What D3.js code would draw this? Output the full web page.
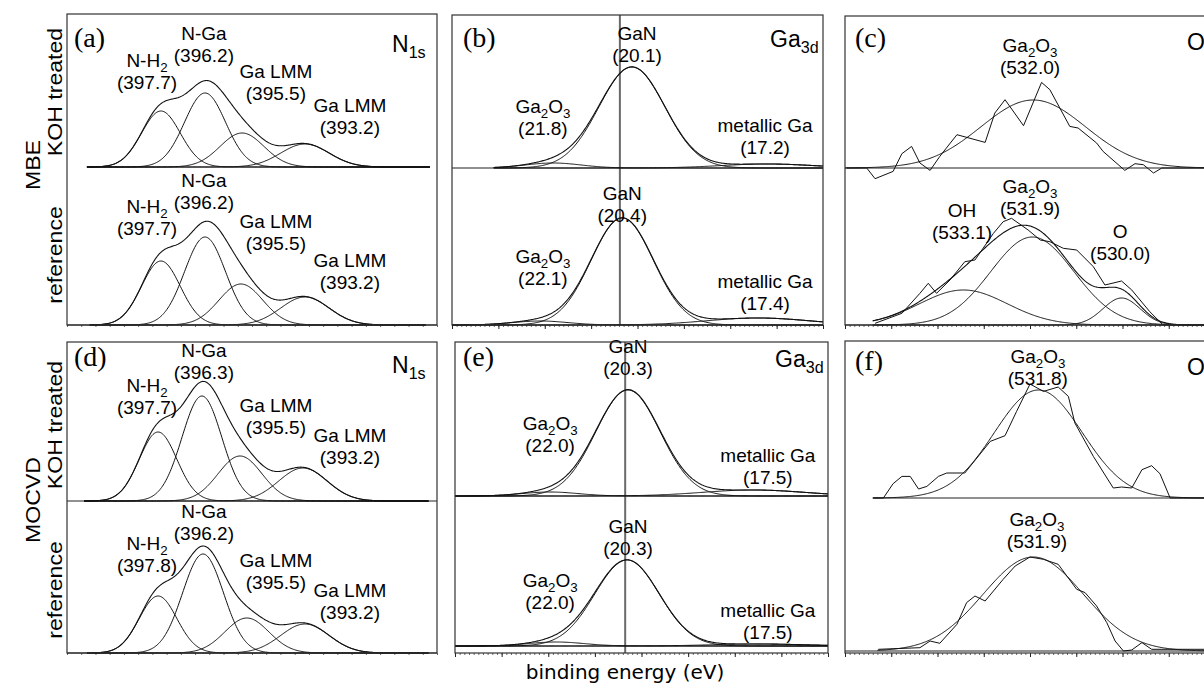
<!DOCTYPE html>
<html>
<head>
<meta charset="utf-8">
<script src="https://cdn.jsdelivr.net/npm/d3@7"></script>
<style>
  body { margin: 0; background: #fff; }
</style>
</head>
<body>
<script>
// fitted components: [center (eV), height (a.u.), sigma (eV)]
var n1sMbeKoh = [[398.70, 56, 0.68], [397.15, 74, 0.72], [395.85, 34, 0.77], [393.64, 23, 0.85]];
var n1sMbeRef = [[398.70, 64, 0.68], [397.15, 88, 0.72], [395.89, 41, 0.77], [393.64, 28, 0.85]];
var n1sMocvdKoh = [[398.80, 69, 0.66], [397.26, 105, 0.70], [395.92, 45, 0.77], [393.71, 33, 0.85]];
var n1sMocvdRef = [[398.80, 57, 0.66], [397.22, 99, 0.72], [395.68, 35, 0.77], [393.64, 29, 0.85]];

var ga3dMbeKoh = [[21.82, 5, 0.6], [20.12, 101, 0.71], [17.2, 4, 1.0]];
var ga3dMbeRef = [[22.10, 4, 0.6], [20.33, 107, 0.67], [17.4, 7, 1.1]];
var ga3dMocvdKoh = [[21.96, 4, 0.6], [20.29, 106, 0.69], [17.6, 6, 1.1]];
var ga3dMocvdRef = [[21.83, 4, 0.6], [20.31, 86, 0.69], [17.5, 2, 1.0]];

var o1sMbeKoh = [[531.93, 68, 1.13]];
var o1sMbeRef = [[533.44, 35, 0.95], [531.95, 88, 0.9], [530.02, 27, 0.4]];
var o1sMocvdKoh = [[531.82, 108, 0.95]];
var o1sMocvdRef = [[531.93, 94, 1.08]];

// measured O1s traces: [energy (eV), intensity (a.u.)]
var o1sMbeKohRaw = [[535.96, 0], [535.53, 0], [535.35, -10.7], [534.96, -3.4], [534.77, 14.3], [534.56, 21.6],
  [534.38, 5], [534.16, -2.4], [533.95, 11.6], [533.58, 33.3], [532.97, 25.6], [532.76, 55], [532.54, 68.3],
  [532.14, 42.3], [531.75, 85.6], [531.57, 78.3], [531.14, 41.6], [530.96, 40], [530.56, 25], [530.42, 16.6],
  [529.95, -2.4], [529.73, 4.3], [529.55, 3.3], [529.33, -5], [529.15, 0], [528.0, 0]];
var o1sMbeRefRaw = [[535.35, 1.7], [534.77, 11.7], [534.38, 31.7], [534.20, 41.7], [534.02, 31.7], [533.73, 45],
  [533.41, 63.3], [533.19, 65], [532.79, 91.7], [532.58, 103.3], [532.40, 106.7], [532.04, 95], [531.78, 85],
  [531.57, 83.3], [531.28, 76.7], [530.99, 75], [530.63, 58.3], [530.38, 40], [530.02, 44], [529.80, 35],
  [529.62, 25], [529.41, 13.3], [529.23, 5], [529.12, 0], [528.0, 0]];
var o1sMocvdKohRaw = [[535.39, 0], [535.17, 0], [534.96, 14.3], [534.77, 21.6], [534.59, 21.6], [534.41, 9],
  [534.23, 11.6], [533.98, 21.6], [533.80, 25], [533.41, 25], [532.86, 56.6], [532.54, 62.3], [532.29, 86.6],
  [532.0, 114], [531.71, 106.6], [531.39, 111], [531.17, 101.6], [531.03, 75], [530.63, 41.6], [530.20, 10],
  [530.02, 11], [529.80, 10], [529.58, 28.3], [529.37, 32.3], [529.19, 24.3], [528.97, 0], [528.0, 0]];
var o1sMocvdRefRaw = [[535.28, 1.7], [534.38, 3.3], [534.16, 10], [533.95, 7.7], [533.58, 26.7], [533.37, 48.4],
  [533.19, 55], [532.97, 50], [532.58, 71.7], [532.32, 85], [532.0, 94], [531.71, 91.7], [531.39, 86.7],
  [530.99, 61.7], [530.81, 58.4], [530.56, 45], [530.34, 28.4], [530.16, 10], [529.98, 0], [529.80, 1],
  [529.58, 8.4], [529.37, 1.7], [528.0, 1.7]];

// peak annotations (name, binding energy); {x} marks a subscript
var n1sMbeKohNames = [['N-H{2}', '(397.7)'], ['N-Ga', '(396.2)'], ['Ga LMM', '(395.5)'], ['Ga LMM', '(393.2)']];
var n1sMbeRefNames = [['N-H{2}', '(397.7)'], ['N-Ga', '(396.2)'], ['Ga LMM', '(395.5)'], ['Ga LMM', '(393.2)']];
var n1sMocvdKohNames = [['N-H{2}', '(397.7)'], ['N-Ga', '(396.3)'], ['Ga LMM', '(395.5)'], ['Ga LMM', '(393.2)']];
var n1sMocvdRefNames = [['N-H{2}', '(397.8)'], ['N-Ga', '(396.2)'], ['Ga LMM', '(395.5)'], ['Ga LMM', '(393.2)']];
var ga3dMbeKohNames = [['Ga{2}O{3}', '(21.8)'], ['GaN', '(20.1)'], ['metallic Ga', '(17.2)']];
var ga3dMbeRefNames = [['Ga{2}O{3}', '(22.1)'], ['GaN', '(20.4)'], ['metallic Ga', '(17.4)']];
var ga3dMocvdKohNames = [['Ga{2}O{3}', '(22.0)'], ['GaN', '(20.3)'], ['metallic Ga', '(17.5)']];
var ga3dMocvdRefNames = [['Ga{2}O{3}', '(22.0)'], ['GaN', '(20.3)'], ['metallic Ga', '(17.5)']];
var o1sMbeKohNames = [['Ga{2}O{3}', '(532.0)']];
var o1sMbeRefNames = [['OH', '(533.1)'], ['Ga{2}O{3}', '(531.9)'], ['O', '(530.0)']];
var o1sMocvdKohNames = [['Ga{2}O{3}', '(531.8)']];
var o1sMocvdRefNames = [['Ga{2}O{3}', '(531.9)']];

// where each annotation sits, in [energy, intensity]
var n1sMbeKohLabelAt = [[399.19, 100], [397.19, 127], [394.66, 89], [392.06, 55]];
var n1sMbeRefLabelAt = [[399.19, 112], [397.19, 138], [394.66, 97], [392.06, 58]];
var n1sMocvdKohLabelAt = [[399.19, 109], [397.19, 144], [394.66, 89], [392.06, 59]];
var n1sMocvdRefLabelAt = [[399.19, 103], [397.19, 135], [394.66, 86], [392.06, 56]];
var ga3dMbeKohLabelAt = [[22.04, 55], [20.01, 128], [17.25, 36]];
var ga3dMbeRefLabelAt = [[22.04, 62], [20.33, 125], [17.25, 37]];
var ga3dMocvdKohLabelAt = [[21.96, 66], [20.29, 143], [17.29, 34]];
var ga3dMocvdRefLabelAt = [[21.96, 59], [20.29, 113], [17.29, 29]];
var o1sMbeKohLabelAt = [[532.0, 116]];
var o1sMbeRefLabelAt = [[533.47, 108], [532.0, 132], [530.05, 87]];
var o1sMocvdKohLabelAt = [[531.83, 135]];
var o1sMocvdRefLabelAt = [[531.85, 125]];

var rowNames = ['MBE', 'MOCVD'];
var sampleNames = ['KOH treated', 'reference'];

var W = 1204, H = 686;
var sans = 'Liberation Sans, Arial, sans-serif';
var ink = '#111';

var svg = d3.select('body').append('svg')
  .attr('width', W)
  .attr('height', H);

var gauss = (c, e) => c[1] * Math.exp(-Math.pow(e - c[0], 2) / (2 * c[2] * c[2]));

// text with {sub} markup turned into lowered tspans
var richText = (g, str, x, y, size, anchor) => {
  var t = g.append('text')
    .attr('x', x)
    .attr('y', y)
    .attr('font-family', sans)
    .attr('font-size', size)
    .attr('text-anchor', anchor || 'middle')
    .attr('fill', '#000');
  var shift = Math.round(size * 0.26);
  var low = false;
  str.split(/(\{[^}]*\})/).filter(s => s.length).forEach((s) => {
    if (s[0] == '{') {
      t.append('tspan').attr('font-size', size * 0.7).attr('dy', shift).text(s.slice(1, -1));
      low = true;
    } else {
      var ts = t.append('tspan').text(s);
      if (low) ts.attr('dy', -shift);
      low = false;
    }
  });
  return t;
};

var rangeOf = (a, b, step) => {
  var lo = Math.min(a, b), hi = Math.max(a, b);
  var out = d3.range(lo, hi, step);
  out.push(hi);
  return out;
};

var drawPanel = (p) => {
  var g = svg.append('g');
  var x = d3.scaleLinear().domain(p.domain).range([p.left, p.right]);

  // bottom ticks, no labels
  var lo = Math.min(p.domain[0], p.domain[1]), hi = Math.max(p.domain[0], p.domain[1]);
  var minors = d3.range(Math.ceil(lo / p.minor) * p.minor, hi + 1e-9, p.minor);
  var majors = minors.filter(v => Math.abs(v / p.major - Math.round(v / p.major)) < 1e-6 && (Math.round(v) % 2 == p.parity || p.major != 2));
  g.append('g')
    .attr('transform', 'translate(0,' + p.bottom + ')')
    .call(d3.axisBottom(x).tickValues(minors).tickSize(2).tickFormat(''))
    .call(a => a.select('.domain').remove())
    .call(a => a.selectAll('line').attr('stroke', '#444').attr('stroke-width', 0.8));
  g.append('g')
    .attr('transform', 'translate(0,' + p.bottom + ')')
    .call(d3.axisBottom(x).tickValues(majors).tickSize(4).tickFormat(''))
    .call(a => a.select('.domain').remove())
    .call(a => a.selectAll('line').attr('stroke', '#222'));

  if (p.refLine != null) {
    g.append('line')
      .attr('x1', x(p.refLine)).attr('x2', x(p.refLine))
      .attr('y1', p.top).attr('y2', p.bottom)
      .attr('stroke', '#6a6a6a')
      .attr('stroke-width', 2);
  }

  p.subplots.forEach((sp) => {
    var y = d3.scaleLinear().domain([0, 150]).range([sp.base, sp.base - 150]);
    var line = d3.line().x(d => x(d[0])).y(d => y(d[1]));

    // baseline of the spectrum
    var bl = sp.line || p.domain;
    g.append('line')
      .attr('x1', x(bl[0])).attr('x2', x(bl[1]))
      .attr('y1', y(0)).attr('y2', y(0))
      .attr('stroke', '#222')
      .attr('stroke-width', 1.2);

    var es = rangeOf(sp.fit[0], sp.fit[1], Math.abs(sp.fit[1] - sp.fit[0]) / 400);

    sp.comps.forEach((c) => {
      g.append('path')
        .attr('d', line(es.map(e => [e, gauss(c, e)])))
        .attr('fill', 'none')
        .attr('stroke', ink)
        .attr('stroke-width', 1);
    });

    if (sp.comps.length > 1) {
      g.append('path')
        .attr('d', line(es.map(e => [e, d3.sum(sp.comps, c => gauss(c, e))])))
        .attr('fill', 'none')
        .attr('stroke', ink)
        .attr('stroke-width', 1.1);
    }

    if (sp.raw) {
      g.append('path')
        .attr('d', line(sp.raw))
        .attr('fill', 'none')
        .attr('stroke', ink)
        .attr('stroke-width', 1);
    }

    sp.names.forEach((n, i) => {
      var at = sp.labelAt[i];
      richText(g, n[0], x(at[0]), y(at[1]), 19);
      richText(g, n[1], x(at[0]), y(at[1]) + 22, 19);
    });
  });

  // frame
  g.append('rect')
    .attr('x', p.left)
    .attr('y', p.top)
    .attr('width', p.right - p.left)
    .attr('height', p.bottom - p.top)
    .attr('fill', 'none')
    .attr('stroke', '#333')
    .attr('stroke-width', 1.2);

  g.append('text')
    .attr('x', p.letterAt[0])
    .attr('y', p.letterAt[1])
    .attr('font-family', 'Liberation Serif, Times New Roman, serif')
    .attr('font-size', 28)
    .text(p.letter);

  richText(g, p.core, p.coreAt[0], p.coreAt[1], 23, 'start');
};

var panels = [
  { letter: '(a)', letterAt: [74, 47], core: 'N{1s}', coreAt: [392, 52],
    domain: [402, 389], major: 2, minor: 0.5, parity: 1,
    left: 67, right: 437, top: 14, bottom: 325,
    subplots: [
      { base: 167, comps: n1sMbeKoh, fit: [401.3, 389.25], line: [401.3, 389.25], names: n1sMbeKohNames, labelAt: n1sMbeKohLabelAt },
      { base: 325, comps: n1sMbeRef, fit: [401.2, 389.4], names: n1sMbeRefNames, labelAt: n1sMbeRefLabelAt }
    ] },
  { letter: '(b)', letterAt: [463, 47], core: 'Ga{3d}', coreAt: [770, 47], refLine: 20.38,
    domain: [24, 16], major: 1, minor: 0.1,
    left: 452, right: 823, top: 15, bottom: 325,
    subplots: [
      { base: 168, comps: ga3dMbeKoh, fit: [23.1, 16], names: ga3dMbeKohNames, labelAt: ga3dMbeKohLabelAt },
      { base: 325, comps: ga3dMbeRef, fit: [24, 16], names: ga3dMbeRefNames, labelAt: ga3dMbeRefLabelAt }
    ] },
  { letter: '(c)', letterAt: [855, 47], core: 'O{1s}', coreAt: [1187, 50],
    domain: [536, 528], major: 1, minor: 0.1,
    left: 845, right: 1215, top: 16, bottom: 325,
    subplots: [
      { base: 168, comps: o1sMbeKoh, raw: o1sMbeKohRaw, fit: [536, 528], names: o1sMbeKohNames, labelAt: o1sMbeKohLabelAt },
      { base: 325, comps: o1sMbeRef, raw: o1sMbeRefRaw, fit: [535.4, 528], names: o1sMbeRefNames, labelAt: o1sMbeRefLabelAt }
    ] },
  { letter: '(d)', letterAt: [74, 366], core: 'N{1s}', coreAt: [392, 373],
    domain: [402, 389], major: 2, minor: 0.5, parity: 1,
    left: 67, right: 437, top: 342, bottom: 653,
    subplots: [
      { base: 501, comps: n1sMocvdKoh, fit: [401.4, 389.3], names: n1sMocvdKohNames, labelAt: n1sMocvdKohLabelAt },
      { base: 653, comps: n1sMocvdRef, fit: [401.3, 389.3], names: n1sMocvdRefNames, labelAt: n1sMocvdRefLabelAt }
    ] },
  { letter: '(e)', letterAt: [463, 366], core: 'Ga{3d}', coreAt: [775, 367], refLine: 20.35,
    domain: [24, 16], major: 1, minor: 0.1,
    left: 455, right: 828, top: 342, bottom: 653,
    subplots: [
      { base: 496, comps: ga3dMocvdKoh, fit: [24, 16], names: ga3dMocvdKohNames, labelAt: ga3dMocvdKohLabelAt },
      { base: 646, comps: ga3dMocvdRef, fit: [24, 16], names: ga3dMocvdRefNames, labelAt: ga3dMocvdRefLabelAt }
    ] },
  { letter: '(f)', letterAt: [855, 370], core: 'O{1s}', coreAt: [1187, 375],
    domain: [536, 528], major: 1, minor: 0.1,
    left: 845, right: 1215, top: 341, bottom: 653,
    subplots: [
      { base: 498, comps: o1sMocvdKoh, raw: o1sMocvdKohRaw, fit: [535.4, 528], line: [535.4, 528], names: o1sMocvdKohNames, labelAt: o1sMocvdKohLabelAt },
      { base: 651, comps: o1sMocvdRef, raw: o1sMocvdRefRaw, fit: [535.3, 528], names: o1sMocvdRefNames, labelAt: o1sMocvdRefLabelAt }
    ] }
];

panels.forEach(drawPanel);

// row titles on the left, slightly stretched along the text like the original
var rowText = (str, bx, cy) => {
  svg.append('text')
    .attr('transform', 'translate(' + bx + ',' + cy + ') rotate(-90) scale(1.1,1)')
    .attr('font-family', sans)
    .attr('font-size', 21)
    .attr('text-anchor', 'middle')
    .text(str);
};
rowText(rowNames[0], 40, 165);
rowText(sampleNames[0], 62, 92);
rowText(sampleNames[1], 62, 255);
rowText(rowNames[1], 40, 500);
rowText(sampleNames[0], 62, 425);
rowText(sampleNames[1], 62, 590);

svg.append('text')
  .attr('x', 625)
  .attr('y', 679)
  .attr('font-family', 'DejaVu Sans, sans-serif')
  .attr('font-size', 20)
  .attr('text-anchor', 'middle')
  .text('binding energy (eV)');
</script>
</body>
</html>
